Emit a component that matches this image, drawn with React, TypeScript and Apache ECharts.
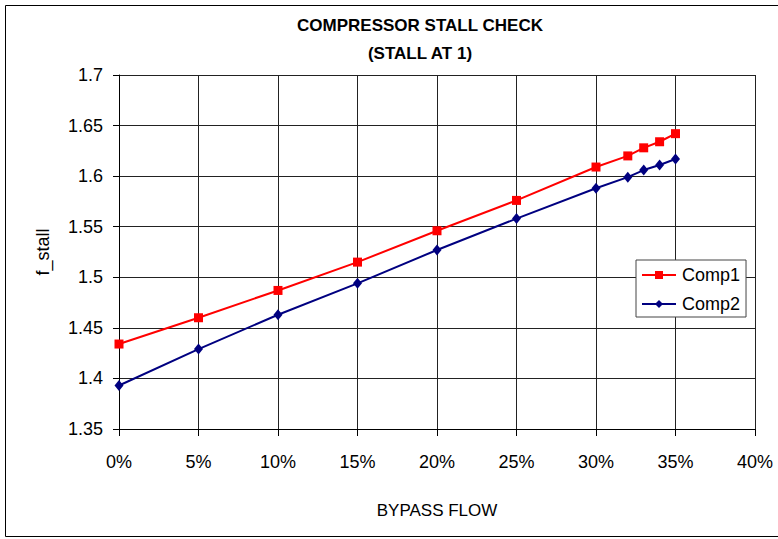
import React, { useEffect, useRef } from "react";
import * as echarts from "echarts";

const bypass = [0, 0.05, 0.1, 0.15, 0.2, 0.25, 0.3, 0.32, 0.33, 0.34, 0.35];
const comp1 = [1.434, 1.46, 1.487, 1.515, 1.546, 1.576, 1.609, 1.62, 1.628, 1.634, 1.642];
const comp2 = [1.393, 1.429, 1.463, 1.494, 1.527, 1.558, 1.588, 1.599, 1.606, 1.611, 1.617];
const titleLines = ["COMPRESSOR STALL CHECK", "(STALL AT 1)"];

const FONT = "'Liberation Sans', Arial, sans-serif";

export default function App() {
  const ref = useRef<HTMLDivElement>(null);
  useEffect(() => {
    if (!ref.current) return;
    const chart = echarts.init(ref.current, null, { renderer: "svg" });
    chart.setOption({
      animation: false,
      backgroundColor: "#fff",
      textStyle: { fontFamily: FONT },
      title: {
        text: titleLines.join("\n"),
        left: 420,
        top: 11,
        textAlign: "center",
        padding: 0,
        textStyle: {
          fontFamily: FONT,
          fontSize: 17,
          fontWeight: "bold",
          color: "#000",
          lineHeight: 28,
        },
      },
      graphic: [
        {
          type: "rect",
          shape: { x: 5.5, y: 5.5, width: 800, height: 531 },
          style: { fill: "none", stroke: "#000", lineWidth: 1 },
          silent: true,
          z: 100,
        },
      ],
      grid: { left: 119, top: 75, right: 23, bottom: 110, containLabel: false },
      legend: {
        left: 636,
        top: 260,
        orient: "vertical",
        padding: [6, 6, 4, 5],
        itemGap: 11,
        itemWidth: 34,
        itemHeight: 10,
        width: 105,
        backgroundColor: "#fff",
        borderColor: "#444",
        borderWidth: 1,
        borderRadius: 0,
        textStyle: { fontFamily: FONT, fontSize: 18, color: "#000", padding: [0, 0, 0, 1] },
        data: ["Comp1", "Comp2"],
      },
      xAxis: {
        type: "value",
        min: 0,
        max: 0.4,
        interval: 0.05,
        name: "BYPASS FLOW",
        nameLocation: "middle",
        nameGap: 73,
        nameTextStyle: { fontFamily: FONT, fontSize: 17, color: "#000" },
        axisLine: { show: true, onZero: false, lineStyle: { color: "#000", width: 1 } },
        axisTick: { show: true, length: 7, lineStyle: { color: "#000" } },
        axisLabel: {
          margin: 24,
          fontFamily: FONT,
          fontSize: 18,
          color: "#000",
          formatter: (v: number) => Math.round(v * 100) + "%",
        },
        splitLine: { show: true, lineStyle: { color: "#222", width: 1 } },
      },
      yAxis: {
        type: "value",
        min: 1.35,
        max: 1.7,
        interval: 0.05,
        name: "f_stall",
        nameLocation: "middle",
        nameGap: 67,
        nameRotate: 90,
        nameTextStyle: { fontFamily: FONT, fontSize: 18, color: "#000" },
        axisLine: { show: true, onZero: false, lineStyle: { color: "#000", width: 1 } },
        axisTick: { show: true, length: 6, lineStyle: { color: "#000" } },
        axisLabel: {
          margin: 16,
          fontFamily: FONT,
          fontSize: 18,
          color: "#000",
          formatter: (v: number) => String(Math.round(v * 100) / 100),
        },
        splitLine: { show: true, lineStyle: { color: "#222", width: 1 } },
      },
      series: [
        {
          name: "Comp1",
          type: "line",
          data: bypass.map((x, i) => [x, comp1[i]]),
          symbol: "rect",
          symbolSize: 9,
          color: "#FF0000",
          lineStyle: { color: "#FF0000", width: 2 },
          itemStyle: { color: "#FF0000" },
        },
        {
          name: "Comp2",
          type: "line",
          data: bypass.map((x, i) => [x, comp2[i]]),
          symbol: "diamond",
          symbolSize: [9, 11],
          color: "#000080",
          lineStyle: { color: "#000080", width: 2 },
          itemStyle: { color: "#000080" },
        },
      ],
    });
    return () => chart.dispose();
  }, []);
  return (
    <div
      ref={ref}
      style={{ position: "absolute", left: 0, top: 0, width: 778, height: 539 }}
    />
  );
}
